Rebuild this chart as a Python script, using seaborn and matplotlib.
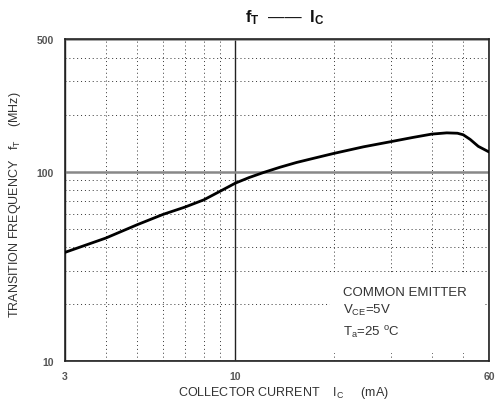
import numpy as np
import pandas as pd
import matplotlib
matplotlib.use('Agg')
import matplotlib.pyplot as plt
import matplotlib.ticker as mticker
from matplotlib.patches import Rectangle
import seaborn as sns

# values (log-log)
ic_ma = [3, 4, 5, 6, 7, 8, 9, 10, 11, 12.2, 13.7, 15.4, 17.3, 20, 24.7, 30, 35,
         40, 44.5, 48, 50, 52.5, 55.6, 60]
ft_mhz = [37.5, 44.6, 52.5, 59.5, 65, 71, 79, 87, 93, 99, 105.5, 111.8, 117.4,
          124.7, 135.2, 144, 151.5, 157.8, 160.2, 159.5, 156.5, 148, 136, 127]

x_major = [3, 10, 60]
x_minor = [4, 5, 6, 7, 8, 9, 20, 30, 40, 50]
y_major = [10, 100, 500]
y_minor = [20, 30, 40, 50, 60, 70, 80, 90, 200, 300, 400]

sns.set_theme(style='white')
plt.rcParams['font.family'] = ['Liberation Sans', 'DejaVu Sans']
plt.rcParams['mathtext.fontset'] = 'custom'
plt.rcParams['mathtext.rm'] = 'Liberation Sans'
plt.rcParams['mathtext.it'] = 'Liberation Sans'
plt.rcParams['mathtext.bf'] = 'Liberation Sans:bold'

df = pd.DataFrame({'ic': ic_ma, 'ft': ft_mhz})

fig = plt.figure(figsize=(4.96, 4.06), dpi=100)
ax = fig.add_axes([0.131, 0.108, 0.855, 0.793])

sns.lineplot(data=df, x='ic', y='ft', ax=ax, color='black', linewidth=2, zorder=3)

ax.set_xscale('log')
ax.set_yscale('log')
ax.set_xlim(3, 60)
ax.set_ylim(10, 500)

ax.xaxis.set_major_locator(mticker.FixedLocator(x_major))
ax.xaxis.set_minor_locator(mticker.FixedLocator(x_minor))
ax.yaxis.set_major_locator(mticker.FixedLocator(y_major))
ax.yaxis.set_minor_locator(mticker.FixedLocator(y_minor))
ax.xaxis.set_major_formatter(mticker.FixedFormatter([str(v) for v in x_major]))
ax.yaxis.set_major_formatter(mticker.FixedFormatter([str(v) for v in y_major]))
ax.xaxis.set_minor_formatter(mticker.NullFormatter())
ax.yaxis.set_minor_formatter(mticker.NullFormatter())

ax.tick_params(which='both', length=0)
ax.tick_params(axis='x', pad=7, labelsize=7.5, labelcolor='#555')
ax.tick_params(axis='y', pad=8, labelsize=7.5, labelcolor='#555')
for lab in ax.get_xticklabels() + ax.get_yticklabels():
    lab.set_fontweight('bold')

ax.set_axisbelow(True)
ax.grid(which='minor', color='#333', linestyle=(0, (1, 3)), linewidth=0.7)
ax.xaxis.grid(which='major', color='#222', linestyle='-', linewidth=1.0)
ax.yaxis.grid(which='major', color='#888', linestyle='-', linewidth=1.8)

for sp in ax.spines.values():
    sp.set_color('#222')
    sp.set_linewidth(1.2)

# white area behind the condition notes
ax.add_patch(Rectangle((0.625, 0.025), 0.363, 0.242, transform=ax.transAxes,
                       facecolor='white', edgecolor='none', zorder=1.5))

ax.set_xlabel('')
ax.set_ylabel('')

txt = '#333'
fig.text(0.575, 0.956, r'$\mathbf{f}_{\mathbf{T}}$  ——  $\mathbf{I}_{\mathbf{C}}$',
         ha='center', va='center', fontsize=12, color='#111')
fig.text(0.571, 0.032, r'COLLECTOR CURRENT    I$_\mathregular{C}$     (mA)',
         ha='center', va='center', fontsize=9, color=txt)
fig.text(0.030, 0.495, r'TRANSITION FREQUENCY   f$_\mathregular{T}$    (MHz)',
         ha='center', va='center', rotation=90, fontsize=9, color=txt)

fig.text(0.691, 0.278, 'COMMON EMITTER', ha='left', va='center', fontsize=9.5, color=txt)
fig.text(0.691, 0.236, r'V$_\mathregular{CE}$=5V', ha='left', va='center', fontsize=9.5, color=txt)
fig.text(0.691, 0.180, r'T$_\mathregular{a}$=25 $^\mathregular{o}$C', ha='left', va='center', fontsize=9.5, color=txt)

fig.savefig('out.png', dpi=100)
